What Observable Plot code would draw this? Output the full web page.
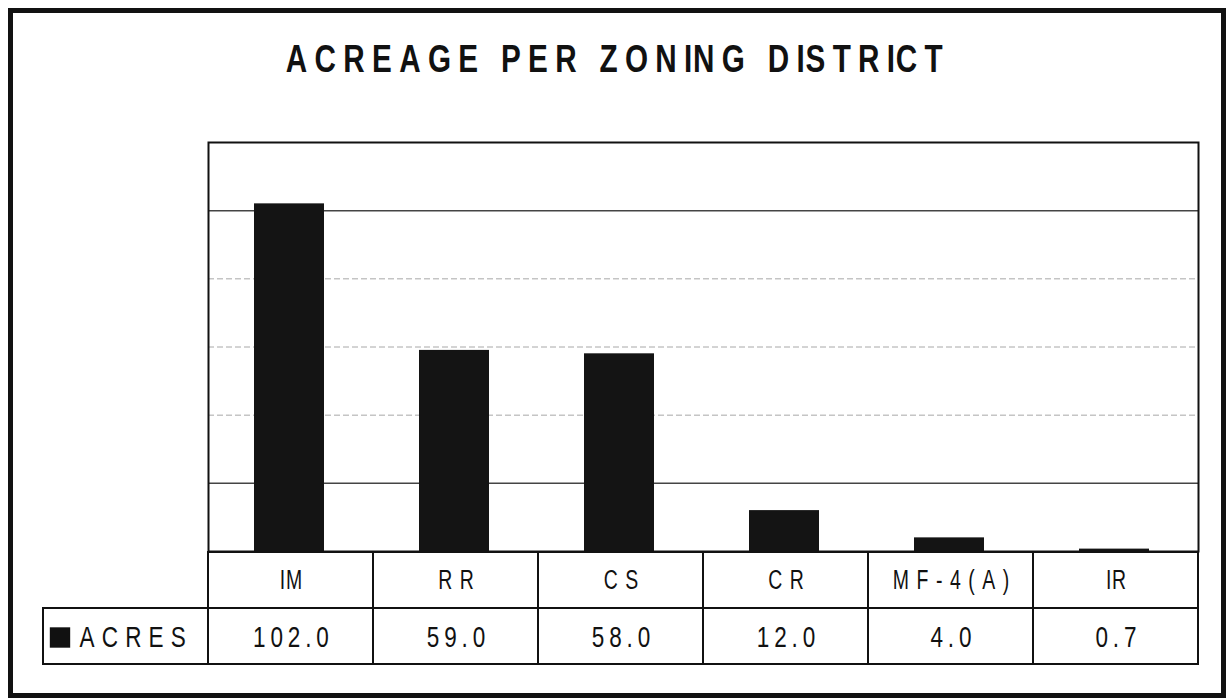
<!DOCTYPE html>
<html><head><meta charset="utf-8">
<script src="https://cdn.jsdelivr.net/npm/d3@7"></script>
<script src="https://cdn.jsdelivr.net/npm/@observablehq/plot@0.6"></script>
<style>
html,body{margin:0;padding:0;background:#fff;}
#wrap{position:relative;width:1228px;height:700px;overflow:hidden;background:#fff;}
#border{position:absolute;left:8px;top:8px;width:1218px;height:690px;box-sizing:border-box;border:5px solid #111;}
#title{position:absolute;left:0;top:40px;width:1228px;padding-left:9px;box-sizing:border-box;text-align:center;font-family:"Liberation Sans",Arial,sans-serif;font-weight:bold;font-size:38px;line-height:38px;letter-spacing:9.4px;color:#111;white-space:nowrap;transform:scaleX(0.78);transform-origin:616px 50%;}
#title span.tight{letter-spacing:1px;}
.layer{position:absolute;left:0;}
</style></head><body>
<div id="wrap"><div id="border"></div><div id="title"></div><div id="chart" class="layer" style="top:0"></div><div id="table" class="layer" style="top:545px"></div></div>
<script>
const title = "ACREAGE PER ZONING DISTRICT";
const zones = ["IM", "RR", "CS", "CR", "MF-4(A)", "IR"];
const acres = [102.0, 59.0, 58.0, 12.0, 4.0, 0.7];
const gridSolid = [20, 100];
const gridDotted = [40, 60, 80];
const seriesLabel = "ACRES";

const FONT = '"Liberation Sans",Arial,sans-serif';

// title: letter-spaced, with the tight spacing after "I" seen in the original
const titleEl = document.getElementById("title");
for (const ch of title) {
  const s = document.createElement("span");
  s.textContent = ch;
  if (ch === "I") s.className = "tight";
  titleEl.appendChild(s);
}

const data = zones.map((z, i) => ({zone: z, acres: acres[i]}));

const chart = Plot.plot({
  width: 1228, height: 552,
  marginTop: 142, marginBottom: 1, marginLeft: 208, marginRight: 30,
  x: {domain: zones, paddingInner: 0.576, paddingOuter: 0.288, axis: null},
  y: {domain: [0, 120], axis: null},
  marks: [
    Plot.ruleY(gridDotted, {stroke: "#a8a8a8", strokeWidth: 1, strokeDasharray: "6,3"}),
    Plot.ruleY(gridSolid, {stroke: "#444", strokeWidth: 1.5}),
    Plot.barY(data, {x: "zone", y: "acres", fill: "#141414", dx: -2}),
    Plot.frame({stroke: "#111", strokeWidth: 2})
  ]
});
chart.style.overflow = "visible";
document.getElementById("chart").appendChild(chart);

const cells = [
  ...zones.map(z => ({col: z, row: "zone", label: z})),
  {col: "", row: "value", label: ""},
  ...zones.map((z, i) => ({col: z, row: "value", label: acres[i].toFixed(1)}))
];

const table = Plot.plot({
  width: 1228, height: 125,
  marginTop: 6, marginBottom: 6, marginLeft: 43, marginRight: 30,
  x: {domain: ["", ...zones], range: [43, 1198], padding: 0, axis: null},
  y: {domain: ["zone", "value"], padding: 0, axis: null},
  marks: [
    Plot.cell(cells, {x: "col", y: "row", fill: "white", stroke: "#111", strokeWidth: 2}),
    Plot.text(cells.filter(d => d.row === "zone"), {x: "col", y: "row", text: "label", fontSize: 27, fontFamily: FONT, fill: "#111", dx: 3.8}),
    Plot.text(cells.filter(d => d.row === "value" && d.col !== ""), {x: "col", y: "row", text: "label", fontSize: 30, fontFamily: FONT, fill: "#111", dx: 2.4, dy: 1}),
    Plot.dot([seriesLabel], {x: () => "", y: () => "value", symbol: "square", r: 11.5, fill: "#111", dx: -66, dy: 1}),
    Plot.text([seriesLabel], {x: () => "", y: () => "value", text: d => d, textAnchor: "start", dx: -46.5, dy: 1, fontSize: 30, fontFamily: FONT, fill: "#111"})
  ]
});
table.style.overflow = "visible";
document.getElementById("table").appendChild(table);
const tg = table.querySelectorAll('g[aria-label="text"]');
const spacings = [10.5, 6.5, 9.6];
const scales = [0.72, 0.75, 0.75];
tg.forEach((g, i) => {
  g.setAttribute("letter-spacing", spacings[i] + "px");
  g.querySelectorAll("text").forEach(t => {
    const str = t.textContent;
    if (str.includes("I")) {
      t.textContent = "";
      for (const ch of str) {
        const ts = document.createElementNS("http://www.w3.org/2000/svg", "tspan");
        ts.textContent = ch;
        if (ch === "I") ts.setAttribute("letter-spacing", "1px");
        t.appendChild(ts);
      }
    }
    const w = t.getComputedTextLength();
    t.setAttribute("textLength", (w * scales[i]).toFixed(2));
    t.setAttribute("lengthAdjust", "spacingAndGlyphs");
  });
});
</script>
</body></html>
